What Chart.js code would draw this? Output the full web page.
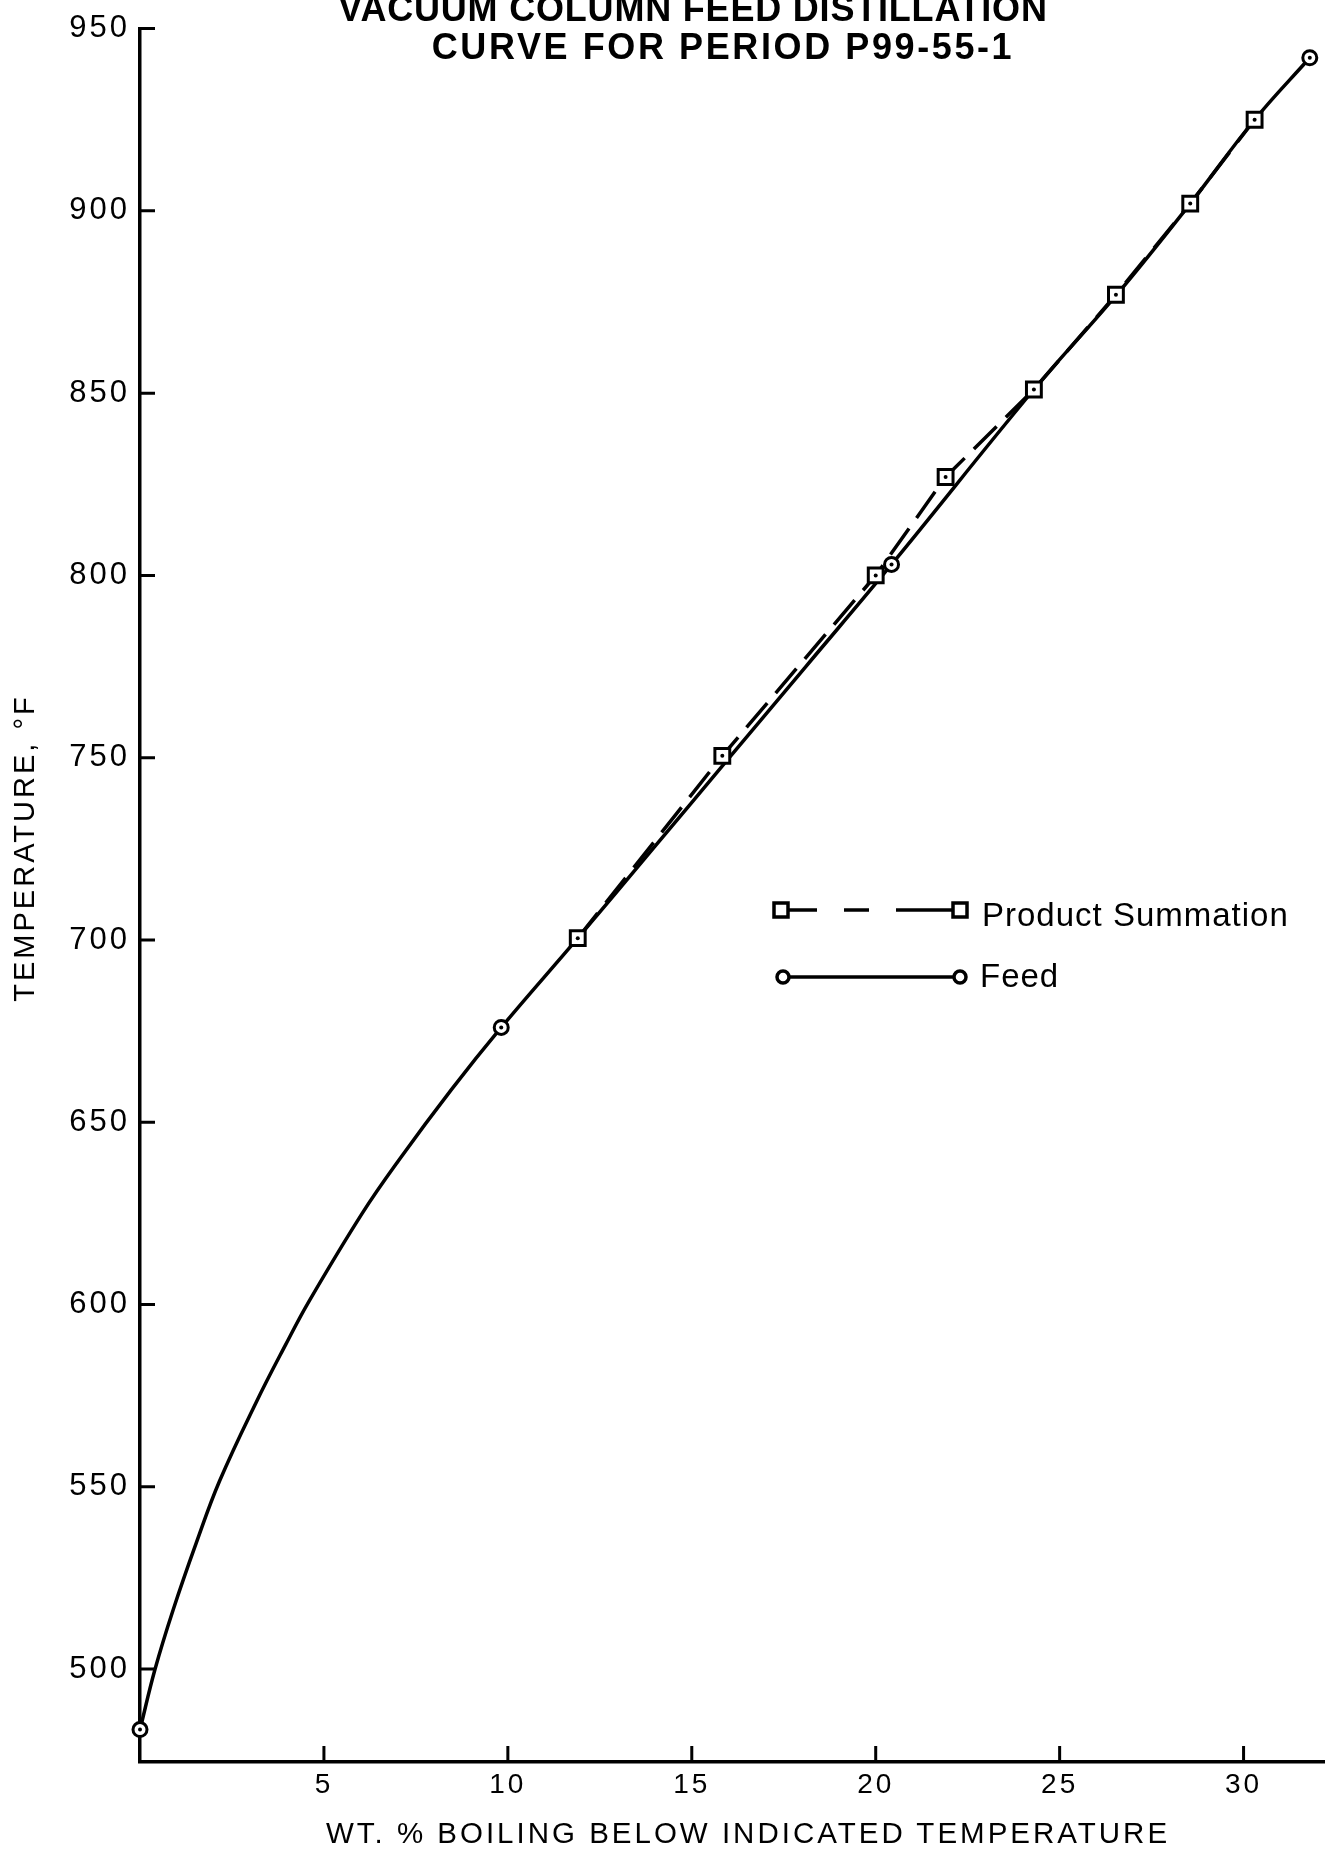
<!DOCTYPE html>
<html>
<head>
<meta charset="utf-8">
<title>Vacuum column feed distillation curve</title>
<script src="https://cdn.jsdelivr.net/npm/chart.js@4.4.1/dist/chart.umd.min.js"></script>
<style>
    html, body { margin: 0; padding: 0; background: #fff; }
    #wrap { position: relative; width: 1338px; height: 1852px; overflow: hidden; font-family: "Liberation Sans", Arial, sans-serif; color: #000; }
    #chart { position: absolute; left: 0; top: 0; }
    .title { position: absolute; width: 1338px; text-align: center; font-weight: bold; font-size: 36px; line-height: 36px; white-space: nowrap; }
    #ytitle { position: absolute; left: -176px; top: 830px; width: 400px; height: 36px; line-height: 36px; text-align: center;
              font-size: 29px; letter-spacing: 3px; white-space: nowrap; transform: rotate(-90deg); }
    #xtitle { position: absolute; left: 79px; top: 1815px; width: 1338px; height: 36px; line-height: 36px; text-align: center;
              font-size: 29.5px; letter-spacing: 3px; white-space: nowrap; }
    #legend { position: absolute; left: 0; top: 0; pointer-events: none; }
</style>
</head>
<body>
<div id="wrap">
    <canvas id="chart" width="1338" height="1852"></canvas>
    <div class="title" style="top:-9px; left:24px; letter-spacing:0.8px">VACUUM COLUMN FEED DISTILLATION</div>
    <div class="title" style="top:29px; left:54px; letter-spacing:2.6px">CURVE FOR PERIOD P99-55-1</div>
    <div id="ytitle">TEMPERATURE, °F</div>
    <div id="xtitle">WT. % BOILING BELOW INDICATED TEMPERATURE</div>
    <svg id="legend" width="1338" height="1852">
        <g stroke="#000" stroke-width="3.5" fill="#fff">
            <line x1="789" y1="910" x2="817" y2="910"/>
            <line x1="844" y1="910" x2="869" y2="910"/>
            <line x1="896" y1="910" x2="953" y2="910"/>
            <rect x="774" y="903" width="14" height="14"/>
            <rect x="953" y="903" width="14" height="14"/>
            <line x1="789" y1="977" x2="954" y2="977"/>
            <circle cx="783" cy="977" r="6"/>
            <circle cx="960" cy="977" r="6"/>
        </g>
        <g font-family="Liberation Sans, Arial, sans-serif" font-size="33" letter-spacing="1" fill="#000">
            <text x="982" y="926">Product Summation</text>
            <text x="980" y="987">Feed</text>
        </g>
    </svg>
</div>
<script>
// axis ticks
const xTicks = [5, 10, 15, 20, 25, 30];
const yTicks = [500, 550, 600, 650, 700, 750, 800, 850, 900, 950];

// product summation (squares, dashed)
const prodWt   = [11.9, 15.83, 20.0, 21.9, 24.3, 26.53, 28.55, 30.3];
const prodTemp = [700.5, 750.5, 800, 827, 851, 877, 902, 925];

// feed measured points (circles)
const feedWt   = [0, 9.82, 20.43, 31.8];
const feedTemp = [483.4, 676, 803, 942];

// feed curve as drawn through the points
const feedCurveWt   = [0, 0.41, 0.9, 1.53, 2.16, 3.15, 3.96, 4.59, 6.04, 7.03, 8.47, 9.82, 11.9, 13.94, 16.02, 18.1, 20.43, 24.3, 26.55, 28.55, 30.3, 31.8];
const feedCurveTemp = [483.4, 500, 516.2, 534.6, 551.5, 573, 589, 600.8, 625, 639.5, 659, 676, 700.5, 725, 750, 775, 803, 851, 877, 902, 925, 942];

const FONT = '"Liberation Sans", Arial, sans-serif';
const pts = (xs, ys) => xs.map((x, i) => ({ x, y: ys[i] }));

const setSpacing = chart => { chart.ctx.letterSpacing = '3px'; };
const letterSpacing = { id: 'letterSpacing', beforeUpdate: setSpacing, beforeLayout: setSpacing, beforeDraw: setSpacing };

// tick marks point into the plot on this chart
const innerTicks = {
    id: 'innerTicks',
    beforeDatasetsDraw(chart) {
        const { ctx, chartArea: a, scales: { x, y } } = chart;
        ctx.save();
        ctx.strokeStyle = '#000';
        ctx.lineWidth = 3;
        ctx.beginPath();
        xTicks.forEach(v => {
            const px = x.getPixelForValue(v);
            ctx.moveTo(px, a.bottom);
            ctx.lineTo(px, a.bottom - 16);
        });
        yTicks.forEach(v => {
            const py = y.getPixelForValue(v);
            ctx.moveTo(a.left, py);
            ctx.lineTo(a.left + 15, py);
        });
        ctx.stroke();
        ctx.restore();
    },
};

// small dot in the middle of every marker
const centerDots = {
    id: 'centerDots',
    afterDatasetsDraw(chart) {
        const ctx = chart.ctx;
        ctx.save();
        ctx.fillStyle = '#000';
        chart.data.datasets.forEach((ds, i) => {
            if (!ds.dotted) return;
            chart.getDatasetMeta(i).data.forEach(p => {
                ctx.beginPath();
                ctx.arc(p.x, p.y, 2, 0, Math.PI * 2);
                ctx.fill();
            });
        });
        ctx.restore();
    },
};

new Chart(document.getElementById('chart'), {
    type: 'scatter',
    data: {
        datasets: [
            {
                label: 'Feed points',
                data: pts(feedWt, feedTemp),
                showLine: false,
                pointStyle: 'circle',
                pointRadius: 7,
                pointBorderWidth: 3,
                pointBackgroundColor: '#fff',
                pointBorderColor: '#000',
                clip: false,
                dotted: true,
            },
            {
                label: 'Product Summation',
                data: pts(prodWt, prodTemp),
                showLine: true,
                borderColor: '#000',
                borderWidth: 3.5,
                borderDash: [32, 13],
                tension: 0,
                pointStyle: 'rect',
                pointRadius: 10.5,
                pointBorderWidth: 3,
                pointBackgroundColor: '#fff',
                pointBorderColor: '#000',
                clip: false,
                dotted: true,
            },
            {
                label: 'Feed',
                data: pts(feedCurveWt, feedCurveTemp),
                showLine: true,
                borderColor: '#000',
                borderWidth: 3.5,
                tension: 0.4,
                pointRadius: 0,
                clip: false,
            },
        ],
    },
    options: {
        responsive: false,
        animation: false,
        events: [],
        layout: { padding: { top: 27, right: 7, bottom: 0, left: 0 } },
        plugins: {
            legend: { display: false },
            tooltip: { enabled: false },
        },
        scales: {
            x: {
                type: 'linear',
                min: 0,
                max: 32.2,
                afterBuildTicks: s => { s.ticks = xTicks.map(v => ({ value: v })); },
                afterFit: s => { s.height = 90; },
                grid: { display: false, drawTicks: false },
                border: { display: true, color: '#000', width: 3.5 },
                ticks: { padding: 6, color: '#000', maxRotation: 0, autoSkip: false, font: { size: 28, family: FONT } },
                title: { display: false },
            },
            y: {
                type: 'linear',
                min: 474.5,
                max: 950,
                afterBuildTicks: s => { s.ticks = yTicks.map(v => ({ value: v })); },
                afterFit: s => { s.width = 140; },
                grid: { display: false, drawTicks: false },
                border: { display: true, color: '#000', width: 3.5 },
                ticks: { padding: 10, color: '#000', autoSkip: false, font: { size: 31, family: FONT } },
                title: { display: false },
            },
        },
    },
    plugins: [letterSpacing, innerTicks, centerDots],
});
</script>
</body>
</html>
